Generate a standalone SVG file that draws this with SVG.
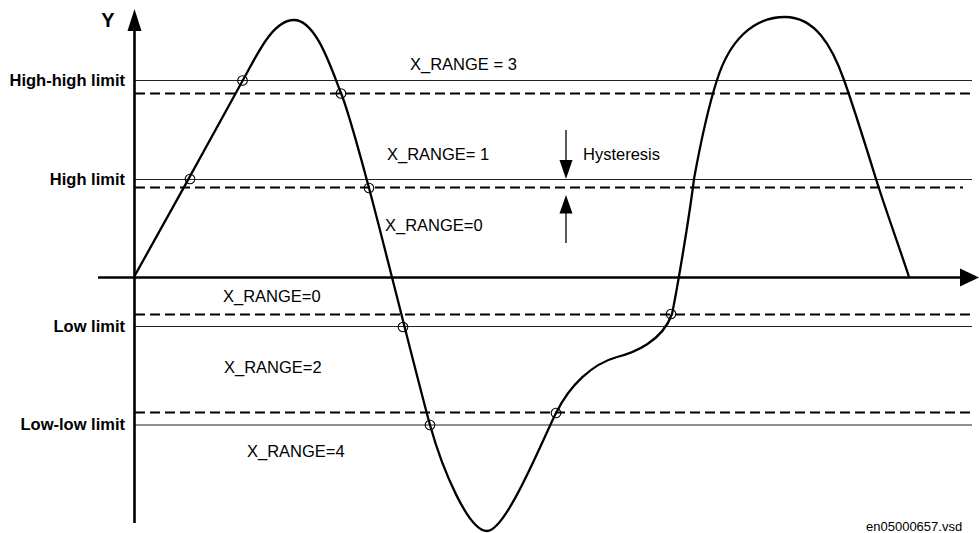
<svg xmlns="http://www.w3.org/2000/svg" width="979" height="533" viewBox="0 0 979 533">
  <style>
    .lbl { font-family: "Liberation Sans", Arial, sans-serif; font-size: 16.5px; fill: #000; }
    .bold { font-weight: bold; text-anchor: end; }
    .ylbl { font-family: "Liberation Sans", Arial, sans-serif; font-size: 20px; font-weight: bold; fill: #000; text-anchor: middle; }
    .file { font-family: "Liberation Sans", Arial, sans-serif; font-size: 13px; fill: #000; }
    .solid { stroke: #222; stroke-width: 1.2; fill: none; }
    .dash { stroke: #000; stroke-width: 2.2; stroke-dasharray: 10 5; fill: none; }
    .axis { stroke: #000; stroke-width: 2.6; fill: none; }
    .curve { stroke: #000; stroke-width: 2.3; fill: none; stroke-linejoin: round; }
    .pt { stroke: #000; stroke-width: 1.1; fill: none; }
    .arr { stroke: #000; stroke-width: 1.3; fill: none; }
  </style>
  <rect width="979" height="533" fill="#fff"/>

  <g id="limit-lines">
    <line class="solid" x1="134" y1="80.5" x2="972" y2="80.5"/>
    <line class="dash" x1="135" y1="93.5" x2="973" y2="93.5"/>
    <line class="solid" x1="134" y1="179.5" x2="972" y2="179.5"/>
    <line class="dash" x1="135" y1="187.5" x2="963" y2="187.5"/>
    <line class="dash" x1="135" y1="314.5" x2="973" y2="314.5"/>
    <line class="solid" x1="134" y1="326.5" x2="972" y2="326.5"/>
    <line class="dash" x1="135" y1="412.5" x2="973" y2="412.5"/>
    <line class="solid" x1="134" y1="425" x2="972" y2="425"/>
  </g>

  <g id="axes">
    <line class="axis" x1="134.5" y1="28" x2="134.5" y2="523"/>
    <polygon points="134.5,9 127.5,31 141.5,31" fill="#000"/>
    <line class="axis" x1="98" y1="277.5" x2="962" y2="277.5"/>
    <polygon points="979,277.5 960,268.5 960,286.5" fill="#000"/>
  </g>

  <g id="signal">
    <path class="curve" d="M134,277 C165,222 220,122 243,80 C256,57 272,20 294,20 C316,20 331,68 341,93 C349,113 362,162 369,188 C382,236 418,382 430,425 C442,468 468,531 487,531 C506,531 542,441 556,413 C570,385 592,364 617,357 C633,353 662,342 672,314 C677,290 689,219 694,179 C700,146 708,108 717,80 C729,42 752,17 785,17 C815,17 832,46 844,80 C854,108 867,150 876,179 C886,211 901,252 909,277"/>
  </g>

  <g id="crossings">
    <circle class="pt" cx="190" cy="179" r="4.8"/>
    <circle class="pt" cx="242.5" cy="80.5" r="4.8"/>
    <circle class="pt" cx="341" cy="93.5" r="4.8"/>
    <circle class="pt" cx="369" cy="188" r="4.8"/>
    <circle class="pt" cx="403" cy="327" r="4.8"/>
    <circle class="pt" cx="430" cy="425" r="4.8"/>
    <circle class="pt" cx="556" cy="413" r="4.8"/>
    <circle class="pt" cx="671" cy="314" r="4.8"/>
  </g>

  <g id="hysteresis">
    <line class="arr" x1="566" y1="130" x2="566" y2="162"/>
    <polygon points="566,179 559.5,160 572.5,160" fill="#000"/>
    <line class="arr" x1="566" y1="211" x2="566" y2="243"/>
    <polygon points="566,195 559.5,213.5 572.5,213.5" fill="#000"/>
    <text class="lbl" x="583" y="159.5">Hysteresis</text>
  </g>

  <g id="axis-labels">
    <text class="ylbl" x="108" y="27">Y</text>
    <text class="lbl bold" x="125" y="86">High-high limit</text>
    <text class="lbl bold" x="125" y="184.5">High limit</text>
    <text class="lbl bold" x="125" y="331.5">Low limit</text>
    <text class="lbl bold" x="125" y="430">Low-low limit</text>
  </g>

  <g id="range-labels">
    <text class="lbl" x="410" y="70">X_RANGE = 3</text>
    <text class="lbl" x="387" y="159.5">X_RANGE= 1</text>
    <text class="lbl" x="385" y="231">X_RANGE=0</text>
    <text class="lbl" x="223" y="301.5">X_RANGE=0</text>
    <text class="lbl" x="224" y="372.5">X_RANGE=2</text>
    <text class="lbl" x="247" y="456.5">X_RANGE=4</text>
  </g>

  <text class="file" x="866" y="531">en05000657.vsd</text>
</svg>
